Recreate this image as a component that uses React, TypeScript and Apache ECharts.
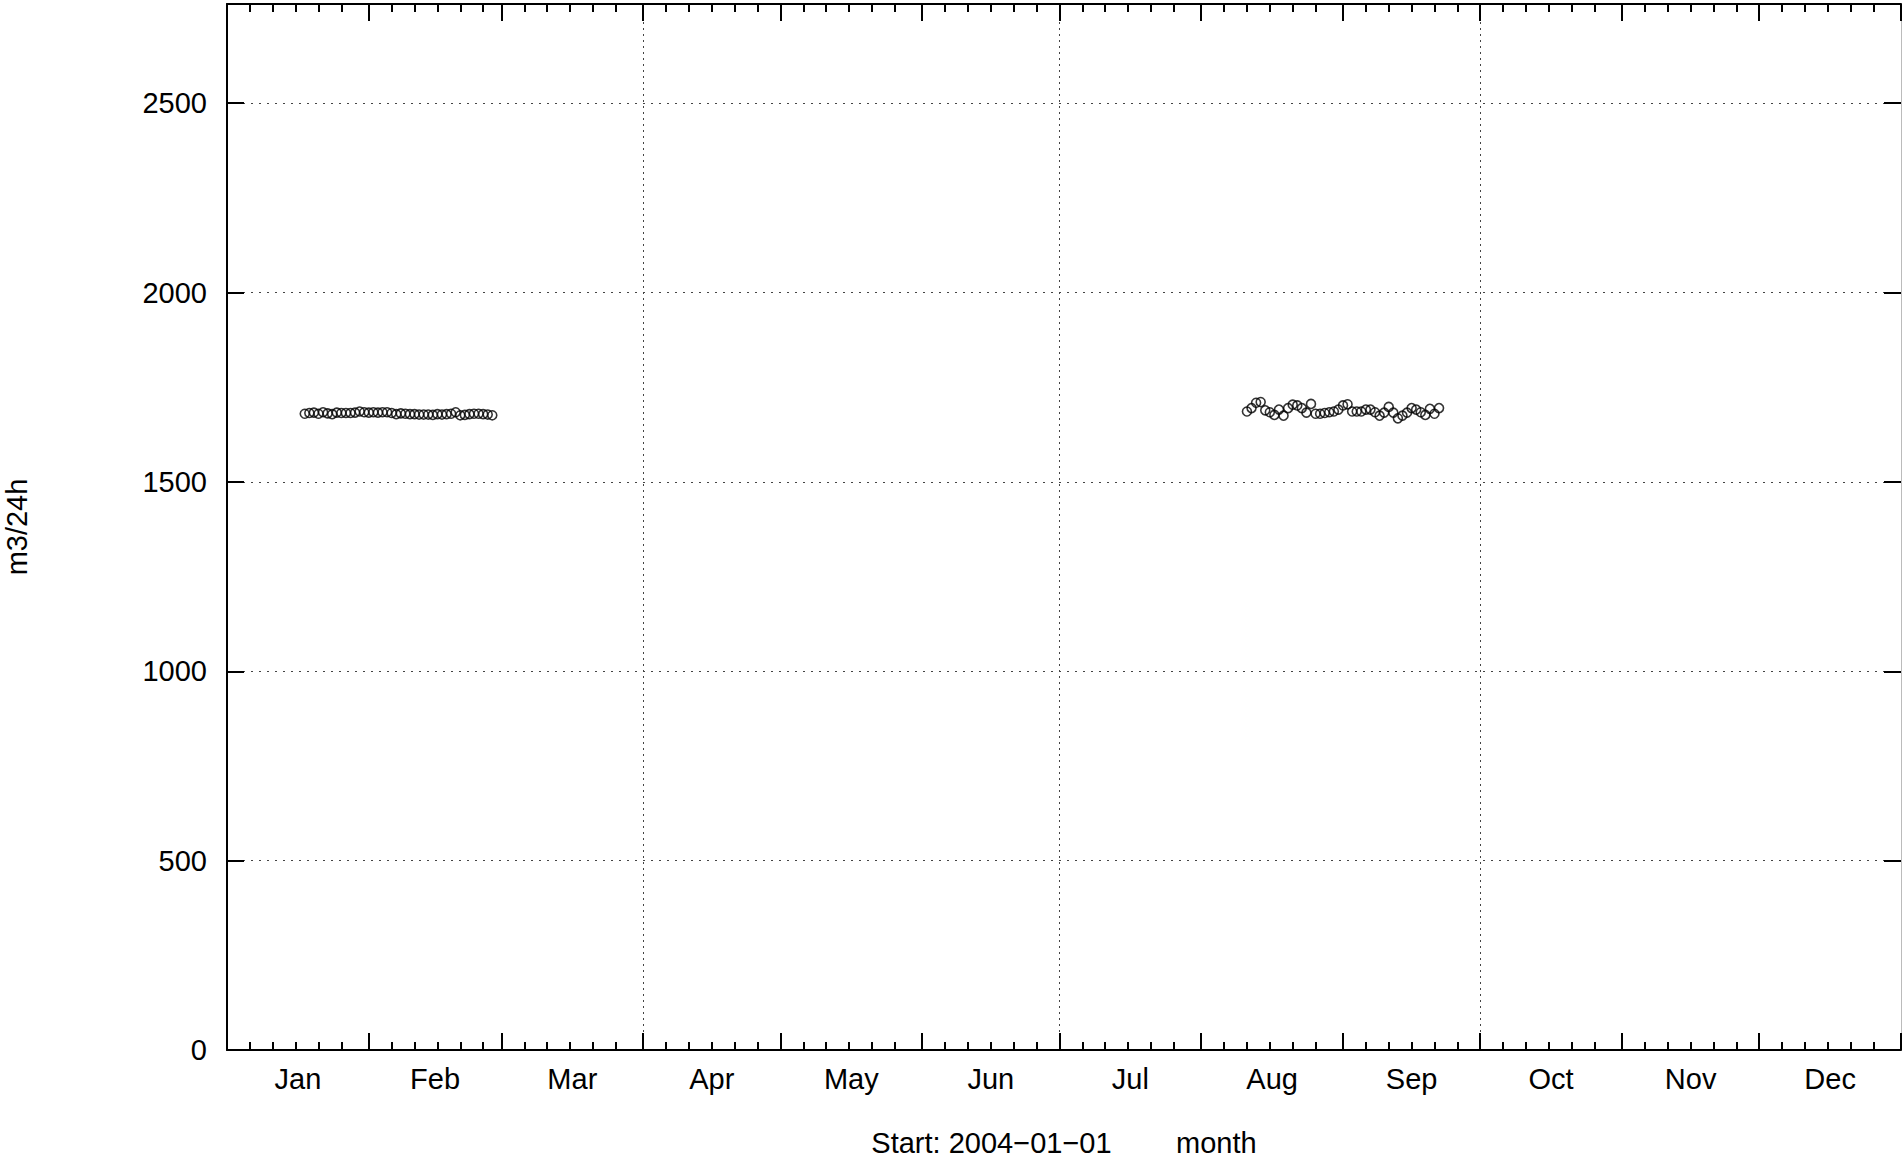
import React, { useEffect, useRef } from "react";
import * as echarts from "echarts";

// ---- data ----
const monthNames = ["Jan", "Feb", "Mar", "Apr", "May", "Jun", "Jul", "Aug", "Sep", "Oct", "Nov", "Dec"];
const monthDays = [31, 29, 31, 30, 31, 30, 31, 31, 30, 31, 30, 31]; // 2004 (leap year)
const minorTickOffsets = [5, 10, 15, 20, 25]; // days after each month start
const gridMonths = [3, 6, 9]; // Apr, Jul, Oct (vertical grid lines)
const yMax = 2762;
const yStep = 500;

// daily values, first day = day-of-year offset
const winterStartDay = 17;
const winterValues = [
  1680, 1682, 1683, 1680, 1684, 1681, 1679, 1683, 1682, 1682, 1682, 1683, 1686, 1684,
  1683, 1684, 1683, 1684, 1684, 1682, 1679, 1681, 1680, 1679, 1679, 1678, 1678, 1678,
  1677, 1679, 1678, 1679, 1680, 1684, 1676, 1677, 1679, 1680, 1680, 1679, 1678, 1676,
];
const summerStartDay = 223;
const summerValues = [
  1686, 1695, 1709, 1711, 1689, 1684, 1677, 1691, 1675, 1695, 1704, 1702, 1695, 1683,
  1706, 1680, 1680, 1682, 1684, 1686, 1691, 1702, 1705, 1686, 1686, 1686, 1691, 1691,
  1684, 1675, 1683, 1698, 1683, 1668, 1675, 1683, 1695, 1691, 1684, 1677, 1693, 1680,
  1695,
];

const FONT = "'Liberation Sans', Arial, sans-serif";

export default function App() {
  const ref = useRef<HTMLDivElement>(null);
  useEffect(() => {
    if (!ref.current) return;
    const chart = echarts.init(ref.current, undefined, { renderer: "svg" });

    const totalDays = monthDays.reduce((a, b) => a + b, 0);
    const monthStarts: number[] = [];
    let acc = 0;
    for (const d of monthDays) {
      monthStarts.push(acc);
      acc += d;
    }
    // half-day categories
    const nCat = totalDays * 2 + 1;
    const labelAt = new Map<number, string>();
    monthStarts.forEach((s, i) => labelAt.set(2 * s + monthDays[i], monthNames[i]));
    const cats: string[] = [];
    for (let k = 0; k < nCat; k++) cats.push(labelAt.get(k) ?? "h" + k);
    const major = new Set<number>(monthStarts.map((s) => 2 * s));
    major.add(2 * totalDays);
    const minor = new Set<number>();
    monthStarts.forEach((s) => minorTickOffsets.forEach((o) => minor.add(2 * (s + o))));
    const gridIdx = new Set<number>(gridMonths.map((m) => 2 * monthStarts[m]));

    const black = "#000";
    const catAxis = (position: string, ticks: Set<number>, len: number, extra: any = {}) => ({
      type: "category",
      position,
      data: cats,
      boundaryGap: false,
      axisLine: { show: false },
      axisTick: {
        show: true,
        inside: true,
        length: len,
        interval: (i: number) => ticks.has(i),
        lineStyle: { color: black, width: 2 },
      },
      axisLabel: { show: false },
      splitLine: { show: false },
      ...extra,
    });

    const pts = (start: number, vals: number[]) => vals.map((v, i) => [start + i, v]);
    const symbolStyle = {
      symbol: "circle",
      symbolSize: 9,
      itemStyle: { color: "rgba(0,0,0,0)", borderColor: black, borderWidth: 1.6 },
      emphasis: { disabled: true },
    };

    chart.setOption({
      animation: false,
      backgroundColor: "#fff",
      textStyle: { fontFamily: FONT },
      grid: {
        left: 227,
        right: 1,
        top: 4,
        bottom: 110,
        containLabel: false,
        outerBoundsMode: "none",
      },
      xAxis: [
        { type: "value", min: 0, max: totalDays, show: false },
        catAxis("bottom", major, 17, {
          axisLine: { show: true, onZero: false, lineStyle: { color: black, width: 2 } },
          axisLabel: {
            show: true,
            interval: (i: number) => labelAt.has(i),
            formatter: (v: string) => (monthNames.includes(v) ? v : ""),
            color: black,
            fontSize: 29,
            fontFamily: FONT,
            margin: 14,
          },
          splitLine: {
            show: true,
            interval: (i: number) => gridIdx.has(i),
            lineStyle: { color: "#444", width: 1, type: [2, 4] },
          },
          name: "Start: 2004\u221201\u221201        month",
          nameLocation: "middle",
          nameGap: 78,
          nameTextStyle: { color: black, fontSize: 29, fontFamily: FONT },
        }),
        catAxis("bottom", minor, 8),
        catAxis("top", major, 17, {
          axisLine: { show: true, onZero: false, lineStyle: { color: black, width: 2 } },
        }),
        catAxis("top", minor, 8),
      ],
      yAxis: [
        {
          type: "value",
          position: "left",
          min: 0,
          max: yMax,
          interval: yStep,
          axisLine: { show: true, onZero: false, lineStyle: { color: black, width: 2 } },
          axisTick: { show: true, inside: true, length: 17, lineStyle: { color: black, width: 2 } },
          axisLabel: {
            color: black,
            fontSize: 29,
            fontFamily: FONT,
            margin: 20,
            showMaxLabel: false,
            formatter: (v: number) => String(v),
          },
          splitLine: { show: true, lineStyle: { color: "#444", width: 1, type: [2, 6] } },
          name: "m3/24h",
          nameLocation: "middle",
          nameRotate: 90,
          nameGap: 196,
          nameTextStyle: { color: black, fontSize: 29, fontFamily: FONT },
        },
        {
          type: "value",
          position: "right",
          min: 0,
          max: yMax,
          interval: yStep,
          axisLine: { show: true, onZero: false, lineStyle: { color: "#bbb", width: 1 } },
          axisTick: { show: true, inside: true, length: 17, lineStyle: { color: black, width: 2 } },
          axisLabel: { show: false },
          splitLine: { show: false },
        },
      ],
      series: [
        {
          type: "scatter",
          xAxisIndex: 0,
          yAxisIndex: 0,
          data: pts(winterStartDay, winterValues),
          ...symbolStyle,
        },
        {
          type: "scatter",
          xAxisIndex: 0,
          yAxisIndex: 0,
          data: pts(summerStartDay, summerValues),
          ...symbolStyle,
        },
      ],
    });
    return () => chart.dispose();
  }, []);
  return (
    <div
      ref={ref}
      style={{ position: "absolute", left: 0, top: 0, width: 1902, height: 1160 }}
    />
  );
}
